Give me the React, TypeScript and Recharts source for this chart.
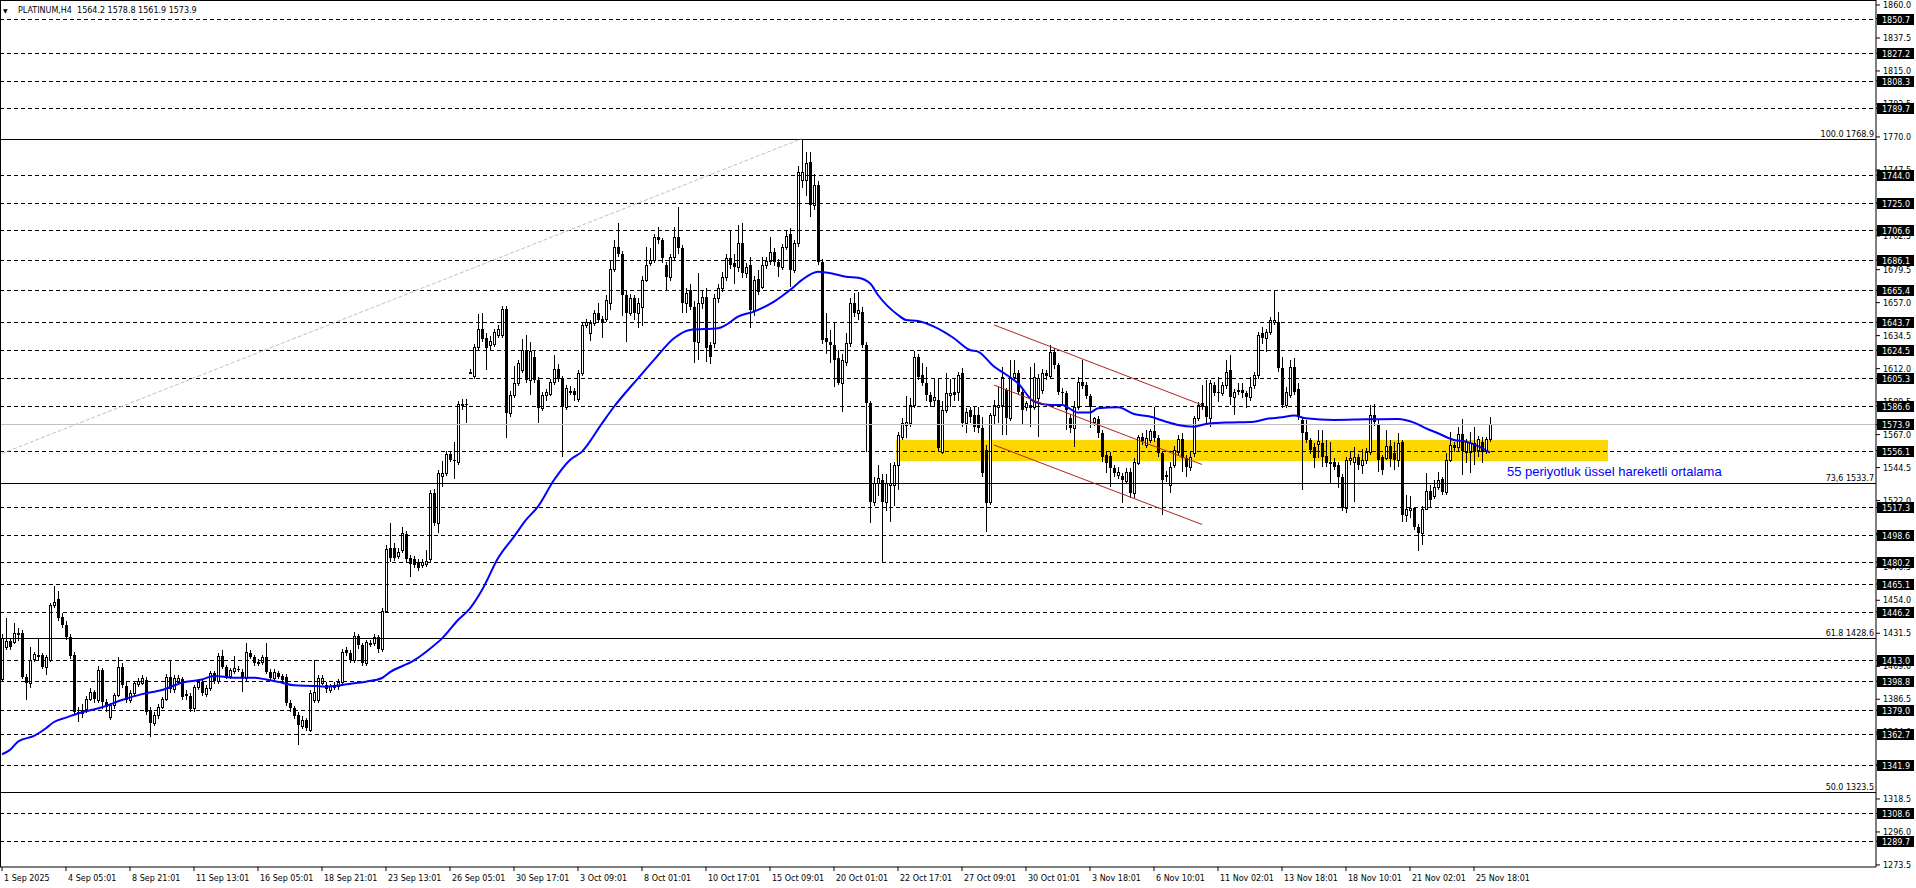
import React from 'react';
import {
  ComposedChart, Bar, Line, XAxis, YAxis, ReferenceLine, ReferenceArea,
} from 'recharts';

const W = 1916;
const H = 888;
const FONT = '"DejaVu Sans", Tahoma, sans-serif';
const SLOTS = 469; // 4px per H4 bar across the plot, empty room on the right

// H4 candles [open, high, low, close]
const sepBars: number[][] = [
  [1400,1431,1398,1428],[1422,1442,1420,1426.5],[1426,1428,1420,1422.4],[1425.8,1438.7,1424,1431.5],[1431,1435,1426,1432],[1431.5,1434,1400,1402],[1402,1404,1386,1397.4],[1397.4,1422.4,1394,1413.3],[1414.2,1419,1412,1417.4],[1416,1427.4,1413,1416.5],
  [1416.7,1418,1407,1408.7],[1408.7,1417,1403,1415.6],[1413.3,1452,1412,1450.8],[1450.8,1463.7,1449,1453.1],[1454.7,1460,1440,1441.7],[1442.8,1445,1435,1437.2],[1437.2,1440,1427,1429.2],[1428.7,1431,1414,1416],[1416.7,1419,1376,1378],[1378,1381,1371.2,1377.4],
  [1377,1383,1374,1379],[1379.6,1389,1377,1386.5],[1386.5,1394,1385,1391.7],[1391.7,1393,1384,1386.5],[1386,1409,1384,1406.5],[1406.5,1408,1380,1384.9],[1384.9,1387,1378,1381.5],[1374.6,1384,1372.4,1382.6],[1382.6,1391,1380,1389.4],[1389.4,1415,1388,1408.7],
  [1408.7,1411,1394,1396.2],[1395.6,1398,1384,1386],[1386,1393,1384,1391],[1390.6,1399,1389,1397.4],[1397,1401,1395,1399],[1397.4,1403,1396,1400.8],[1399.7,1402,1376,1378],[1379,1381,1360.6,1370.6],[1370.6,1378,1368,1375.8],[1375.8,1383,1373,1381.5],
  [1381.5,1388,1380,1386.5],[1386.5,1404,1385,1401.9],[1401.9,1413.3,1391,1393.3],[1393.3,1403,1391,1400.8],[1398.5,1403,1397,1400.8],[1400,1402,1386,1388.3],[1390,1393,1386,1388.7],[1388.7,1391,1378,1379.6],[1380.3,1396,1378,1394.6],[1394.6,1400,1393,1398.5],
  [1398.5,1400,1389,1391],[1390.1,1396,1388,1394],[1394,1406,1392,1404.7],[1404.7,1406,1397,1399.2],[1399.2,1418,1397,1416],[1416,1420.1,1407,1408.7],[1408.7,1410,1400,1401.9],[1402.4,1408,1400,1406.5],[1406,1416,1404,1407.6],[1407,1409,1405,1406.7],
  [1405.3,1407,1391.7,1400.8],[1400.8,1424.7,1399,1419],[1418.3,1420,1414,1415.6],[1415.6,1417,1409,1411],[1411,1414,1409,1412],[1412.2,1417,1410,1415.6],[1415.6,1425,1404,1405.3],[1405.3,1407,1399,1400.8],[1400.8,1407,1399,1405.3],[1404.2,1406,1400,1401.9],
  [1402.4,1404,1398,1399.7],[1401.9,1404,1382,1384.2],[1384.2,1386,1378,1380.3],[1380.3,1382,1373,1375.1],[1375.8,1378,1355.3,1369],[1368.3,1375,1366,1372.4],[1372.4,1374,1365,1366.7],[1365.6,1393,1364,1391],[1386,1413.3,1384,1391.7],[1386,1403,1384,1400.8],
  [1397.8,1403,1396,1401.2],[1396.2,1398,1391,1393.3],[1392.8,1397,1391,1395.6],[1395.1,1398,1393,1396.2],[1395.6,1400,1393,1398.5],[1398.5,1421,1397,1419],[1420.1,1422,1416,1417.8],[1418.3,1420,1411,1413.3],[1413.3,1432.6,1411,1429.7],[1429.7,1431,1421,1423.5],
  [1423.5,1425,1409,1411],[1411,1427,1409,1425.8],[1425.1,1427,1422,1423.5],[1424.7,1431,1423,1429.2],[1428.7,1430,1418,1420.6],[1420.6,1449,1419,1446.9],[1446.9,1492,1445,1489],[1490,1507,1480,1483],[1490,1493,1481,1483],[1484,1490,1482,1487],
  [1488,1504,1486,1500],[1499,1501,1480,1482],[1483,1485,1470,1479],[1482,1484,1476,1478],[1480,1482,1474,1476],[1478,1482,1476,1480],[1479,1488,1477,1481],[1482,1529,1480,1527],[1527,1530,1505,1507],[1507,1543,1500,1541],
  [1539,1549,1531,1541],[1541,1556,1539,1554],[1554,1556,1548,1550],[1550,1562,1537,1549],[1548,1590,1546,1588],[1587,1591,1584,1588],[1588,1591,1575,1587],[1609.5,1612,1609,1610],[1607,1629,1605,1627],[1627,1649,1625,1639],
  [1639,1650,1630,1632],[1633,1636,1611,1626],[1628,1634,1624,1631],[1629,1639,1627,1637],[1635,1642,1633,1639],[1635,1655,1633,1653],[1653,1655,1565,1582],[1582,1597,1579,1594],[1594,1614,1592,1602],[1602,1618,1600,1616],
];

const octBars: number[][] = [
  [1611,1632,1609,1625],[1625,1635,1602,1604],[1604,1630,1594,1624],[1620,1624,1602,1604],[1604,1606,1575,1585],[1585,1596,1583,1594],[1594,1598,1590,1596],[1595,1605,1593,1603],[1603,1621,1601,1612],[1612,1615,1603,1605],
  [1605,1607,1552,1586],[1586,1601,1584,1599],[1596,1600,1594,1597],[1597,1599,1590,1594],[1591,1611,1589,1609],[1609,1644,1607,1642],[1642,1646,1640,1644],[1636,1645,1631,1643],[1643,1652,1641,1650],[1650,1657,1643,1645],
  [1646,1648,1633,1643],[1646,1662,1644,1659],[1657,1686,1652,1680],[1680,1700,1678,1695],[1695,1711,1688,1690],[1690,1692,1648,1662],[1662,1665,1630,1650],[1650,1663,1648,1660],[1660,1662,1645,1650],[1650,1660,1640,1657],
  [1654,1675,1641,1672.5],[1672.5,1695,1671,1682.7],[1683.8,1694,1682,1686.1],[1686.1,1704,1684,1702],[1702,1708.8,1697,1699.7],[1699.7,1701,1684,1687.2],[1682.7,1685,1665.6,1674.7],[1674.7,1690,1672,1688.4],[1688.4,1708.8,1686,1702],[1702,1722.5,1690,1694],
  [1694,1696,1649.7,1656.5],[1656.5,1667,1650,1663.4],[1665.6,1670,1652,1654.3],[1654.3,1658,1615.6,1630.4],[1630.4,1677,1618,1656.5],[1656.5,1665,1653,1661],[1661,1667,1616.8,1625.9],[1628.2,1630,1615,1620.2],[1629.3,1663,1626,1660],[1660,1670,1657,1666.8],
  [1666.8,1678,1664,1674.7],[1674.7,1690,1672,1687.2],[1687.7,1706.5,1680,1682.7],[1683.8,1690,1670,1681.1],[1681.1,1710,1678,1697.5],[1697.9,1711,1674,1677],[1677,1684,1674,1681.5],[1682.7,1688,1639.5,1652],[1652,1675,1648,1672.5],[1672.9,1679,1662,1664.5],
  [1668,1688,1666,1682.7],[1682.7,1688,1680,1685.4],[1685.4,1702,1683,1691.8],[1691.8,1694,1682,1685],[1685,1687,1674.7,1681.5],[1681.5,1697,1679,1695.2],[1695.2,1706.6,1693,1702.5],[1703.8,1708,1668,1679.3],[1679.3,1700,1677,1697.5],[1697.5,1750,1695,1746.3],
  [1740.6,1768.9,1735,1746.3],[1740.6,1760,1730,1752],[1753.2,1760,1715.6,1723.6],[1723.6,1745,1720,1737.2],[1737.2,1740,1683,1685],[1685,1687,1629,1631.5],[1632.7,1650,1622,1630.4],[1630.4,1638.4,1615.6,1628.2],[1628.2,1643,1599.7,1617.9],[1619,1625,1600.8,1602],
  [1602,1622,1582.7,1617.9],[1616.8,1636,1614,1629.3],[1629.3,1660,1627,1656.5],[1656.5,1663.4,1647,1649.7],[1649.7,1664.5,1645,1652],[1650.9,1654,1626,1628.2],[1628.2,1630,1555.4,1588.4],[1588.4,1590,1506.5,1521.3],[1521.3,1538,1518,1533.8],[1533.8,1546.3,1525,1537.2],
  [1536,1540,1480.4,1521.3],[1521.3,1540,1515,1533.8],[1532.7,1547.5,1507.7,1533.8],[1532.7,1548,1518,1546.3],[1546.3,1569,1529,1566.8],[1565.7,1578,1563,1574.7],[1573.6,1593,1565,1575.9],[1574.7,1592,1572,1587.2],[1587.2,1624,1585,1620.2],[1620.2,1622,1604,1606.6],
  [1607.7,1615.6,1600,1602],[1602,1613,1590,1594],[1594,1596,1586,1589.5],[1590.6,1605.4,1586,1592.9],[1590.6,1605.4,1555,1557.7],[1555.4,1590,1554,1583.8],[1583.8,1608.8,1582,1595.2],[1594.1,1605,1586,1595.2],[1596.3,1605,1590,1594.1],[1596.3,1610,1590,1607.7],
  [1608.8,1612.2,1572,1574.7],[1574.7,1585,1568,1582.7],[1583.8,1586,1574.7,1579.3],[1580.4,1586,1569,1572.4],[1580.4,1586,1568,1571.3],[1571.3,1579,1538,1540.6],[1556.5,1560,1500.8,1520.2],[1521.3,1581.5,1519,1580.4],[1580.4,1590.6,1573.6,1587.2],[1586.1,1599.7,1574.7,1587.2],
  [1587.2,1613.3,1567,1606.6],[1597.5,1598.6,1566.8,1578.1],[1578.1,1617.9,1576,1606],[1606.5,1617.9,1604,1608.8],[1608.8,1611,1594,1596.3],[1596.3,1598,1573.6,1583.8],[1586.1,1590,1583,1588.4],[1586.1,1613.3,1572.4,1587.2],[1586.1,1615.6,1584,1606.5],[1591.8,1608,1565.5,1605.4],
  [1597.4,1612,1595,1608.8],[1608.8,1611,1604,1607],[1607,1628.1,1605,1623.6],[1623.6,1625.8,1612,1614.5],[1614.5,1616,1594,1596.3],[1596.3,1599,1588,1595.2],[1595.2,1597,1570,1583.8],[1578.1,1581,1568,1571.3],
];

const novBars: number[][] = [
  [1571.3,1590,1558.8,1586.1],[1586.1,1606,1584,1603.1],[1603.1,1617.9,1598,1600.2],[1600.8,1603,1591,1593.3],[1593.3,1595,1571.3,1586.1],[1575.8,1579.3,1573,1578.1],[1577.4,1580,1565,1567.9],[1567.9,1570,1548.6,1552],[1553.1,1556,1540.6,1547.4],[1552.4,1555,1531.5,1544],
  [1544,1546,1538,1541.1],[1539.5,1545,1537,1541.7],[1539,1541,1520.2,1536],[1535.6,1544,1533,1541.7],[1541.7,1544,1523.6,1527],[1527,1551,1523.6,1548.6],[1547.9,1566.8,1546,1565.6],[1565.2,1568,1560,1562.9],[1560,1570,1558,1564.5],[1563.4,1570.6,1561,1569.7],
  [1569.7,1586.1,1562,1564.5],[1564.5,1567,1552,1554.3],[1554.3,1556,1512.2,1536.1],[1539.5,1542,1535,1538.3],[1532.7,1548,1527,1545.2],[1546.3,1559,1544,1556.5],[1555.4,1566.8,1553,1563.8],[1563.8,1568,1541.7,1550.8],[1550.8,1553,1538.3,1545.2],[1545.2,1556,1542,1552],
  [1554.2,1580,1552,1578.1],[1578.1,1589.5,1576,1587.2],[1588.4,1600.8,1584,1586.1],[1586.1,1604,1575,1579.3],[1578.1,1604.3,1572.4,1602],[1600.8,1603,1593,1595.2],[1596.3,1606.5,1589.5,1595.6],[1595.6,1603,1593,1600.8],[1600.8,1617.9,1598,1609.9],[1611,1621.3,1587.2,1592.9],
  [1592.9,1598,1580.4,1596.3],[1597,1602,1594,1597.4],[1597.4,1602,1592,1595.6],[1595.2,1597,1585,1592.9],[1592.9,1606.5,1590,1599.7],[1600.8,1610,1598,1607.7],[1607.7,1637,1605,1634.9],[1636.1,1640.6,1629,1632.7],[1632.7,1639,1623.6,1637.2],[1637.2,1647,1635,1645.2],
  [1644,1665.4,1642,1645.2],[1644,1650.9,1610,1612.2],[1612.2,1620.2,1585,1587.2],[1587.2,1599.7,1585,1596.3],[1594.1,1617.9,1592,1613.3],[1613.3,1619,1594,1596.3],[1597.9,1602,1577,1579.3],[1577,1579,1529.2,1567.9],[1569,1577,1561,1563.3],[1563.3,1565,1554,1556.5],
  [1558.8,1561,1544,1550.8],[1560.6,1570.2,1550.8,1562.6],[1561.1,1570,1545,1552],[1552.4,1563.3,1545,1547.4],[1547.4,1562,1533.8,1548.6],[1548.1,1551,1543,1545.2],[1546.3,1548,1530.4,1538.3],[1538.3,1540,1515,1516.7],[1516.7,1552,1513.3,1549.7],[1549.7,1556,1546,1550.8],
  [1548.6,1558.8,1521,1551.9],[1551.9,1554,1543,1546.3],[1546.3,1557,1540,1549.7],[1549.7,1558,1547,1555.4],[1555.4,1587.2,1553,1580.4],[1580.4,1588,1573,1575.8],[1573.6,1577,1541.7,1549.7],[1551.5,1553,1539.5,1542.9],[1550.8,1570.2,1549.7,1559.2],[1559.2,1563.3,1545.2,1550.2],
  [1554.2,1562.2,1542.9,1549.7],[1549.7,1568.3,1545.2,1561.1],[1562.2,1563.3,1507.6,1512.2],[1512.2,1525.8,1507.6,1516],[1515.6,1525,1510,1516.7],[1516.7,1517.9,1502,1504.2],[1504.2,1506,1487.9,1500.1],[1500.1,1518,1491.7,1516],[1516,1540.6,1515.6,1528.6],[1528.6,1532.6,1516.7,1522.4],
  [1525.2,1536.1,1523,1531.1],[1531.1,1541.7,1529,1536.1],[1536.5,1538,1525.8,1528.1],[1528.1,1554.2,1526,1549.7],[1549.7,1569,1548,1559.9],[1559.9,1562,1555,1557.7],[1558.8,1572.4,1556,1567.4],[1567.4,1577.4,1539.5,1556.1],[1555.4,1564,1547.4,1562.2],[1555.4,1569,1540.6,1561.1],
  [1561.5,1572.4,1546.3,1555.4],[1556.5,1566,1552,1563.8],[1562.2,1565.6,1547.4,1555.4],[1556.5,1565.6,1554,1563.8],[1564.2,1578.8,1561.9,1573.9],
];

// 55-period EMA at [bar index, price]
const emaPoints: [number, number][] = [
  [0,1349],[2,1352],[4,1357.6],[8,1361.5],[11,1366.7],[13,1371],[16,1374],[20,1377.6],[25,1381],[30,1386],
  [35,1390],[40,1392.8],[45,1397.8],[50,1400],[53,1402.4],[58,1401.2],[63,1401.2],[66,1400],[70,1397.8],[73,1396],
  [78,1395.6],[81,1395.1],[85,1396.2],[88,1397.4],[91,1398.5],[95,1401],[97,1405],[103,1413],[107,1421],[110,1428],
  [114,1440.6],[117,1448.5],[120,1461],[124,1482.6],[128,1497.4],[131,1508.8],[134,1517.9],[138,1536],[142,1549.7],[145,1555.4],
  [150,1574.7],[153,1586],[159,1605.4],[163,1618],[168,1632.7],[172,1638.4],[179,1639.5],[181,1641.8],[184,1647.5],[188,1650.9],
  [193,1657.7],[197,1665.6],[200,1672.5],[204,1678.1],[208,1676.6],[211,1674.7],[214,1674],[217,1670.2],[219,1662.2],[224,1648.6],
  [226,1645.2],[229,1644.5],[233,1640.6],[238,1632.7],[242,1624.7],[244,1623.6],[248,1613.4],[251,1608],[254,1602],[258,1589.5],
  [262,1587.2],[265,1587.2],[269,1582],[272,1582],[274,1585],[279,1585.6],[283,1581.1],[287,1579.3],[291,1575.8],[294,1573.6],
  [298,1572.4],[301,1574.3],[306,1575.2],[313,1575.8],[316,1577.7],[320,1578.8],[323,1580],[326,1578.1],[333,1577],[341,1577.4],
  [349,1577.7],[353,1575.2],[356,1571.3],[359,1567.9],[363,1563.3],[366,1562.2],[369,1559.2],[372,1554.7],
];

const timeLabels = [
  '1 Sep 2025', '4 Sep 05:01', '8 Sep 21:01', '11 Sep 13:01', '16 Sep 05:01', '18 Sep 21:01',
  '23 Sep 13:01', '26 Sep 05:01', '30 Sep 17:01', '3 Oct 09:01', '8 Oct 01:01', '10 Oct 17:01',
  '15 Oct 09:01', '20 Oct 01:01', '22 Oct 17:01', '27 Oct 09:01', '30 Oct 01:01', '3 Nov 18:01',
  '6 Nov 10:01', '11 Nov 02:01', '13 Nov 18:01', '18 Nov 10:01', '21 Nov 02:01', '25 Nov 18:01',
];
const LABEL_EVERY = 16;

const priceTicks = [
  1860, 1837.5, 1815, 1792.5, 1770, 1747.5, 1725, 1702.5, 1679.5, 1657, 1634.5, 1612, 1589.5, 1567,
  1544.5, 1522, 1499.5, 1476.5, 1454, 1431.5, 1409, 1386.5, 1364, 1341.5, 1318.5, 1296, 1273.5,
];
const priceDomain = [1272.1, 1863.4];

const dashedLevels = [
  1850.7, 1827.2, 1808.3, 1789.7, 1744.0, 1725.0, 1706.6, 1686.1, 1665.4, 1643.7, 1624.5, 1605.3, 1586.6,
  1556.1, 1517.3, 1498.6, 1480.2, 1465.1, 1446.2, 1413.0, 1398.8, 1379.0, 1362.7, 1341.9, 1308.6, 1289.7,
];
const fibValues = [1768.9, 1533.7, 1428.6, 1323.5];
const fibNames = ['100.0', '73,6', '61.8', '50.0'];
const lastPrice = 1573.9;

// channel lines: [fromBar, fromPrice, toBar, toPrice]
const channelLines = [
  [248, 1641.8, 300, 1587.2],
  [248, 1600.8, 300, 1546.6],
  [248, 1559.9, 300, 1505.7],
];
const fibTrend = [0, 1554.1, 200, 1768.9];
const zoneBars = [224, 401];
const zonePrices = [1549.0, 1563.4];

const candles = [...sepBars, ...octBars, ...novBars];
const emaMap = new Map(emaPoints);
const rows = Array.from({ length: SLOTS }, (_, i) => {
  const b = candles[i];
  const ema = emaMap.has(i) ? emaMap.get(i) : null;
  return b
    ? { i, o: b[0], h: b[1], l: b[2], c: b[3], range: [b[2], b[1]], ema }
    : { i, ema };
});
const tickIdx = timeLabels.map((_, k) => k * LABEL_EVERY);

// boxed price labels go last so they paint over the plain scale labels
const boxedPrices = [...dashedLevels, lastPrice];
const boxedSet = new Set(boxedPrices);
const yTicks = [...priceTicks, ...boxedPrices];

const Candle = (props: any) => {
  const { x, y, width, height, payload } = props;
  if (!payload || payload.o == null) return null;
  const { o, h, l, c } = payload;
  const top0 = Math.min(y, y + height);
  const span = Math.abs(height);
  const k = h === l ? 0 : span / (h - l);
  const py = (p: number) => top0 + (h - p) * k;
  const cx = Math.floor(x + width / 2);
  const bt = Math.round(py(Math.max(o, c)));
  const bb = Math.round(py(Math.min(o, c)));
  const up = c > o;
  return (
    <g>
      <line x1={cx + 0.5} x2={cx + 0.5} y1={Math.round(top0)} y2={Math.round(top0 + span)} stroke="#000" />
      {up ? (
        <rect x={cx - 0.5} y={bt + 0.5} width={2} height={Math.max(bb - bt, 1)} fill="#fff" stroke="#000" />
      ) : (
        <rect x={cx - 1} y={bt} width={3} height={Math.max(bb - bt, 1)} fill="#000" />
      )}
    </g>
  );
};

const ends = (p: any) => ({ xl: Math.min(p.x1, p.x2), xr: Math.max(p.x1, p.x2), y: Math.round(p.y1) + 0.5 });

const dashedShape = (p: any) => {
  const { xl, xr, y } = ends(p);
  return <line x1={xl} x2={xr} y1={y} y2={y} stroke="#000" strokeDasharray="4 3" />;
};

const fibShape = (v: number, name: string) => (p: any) => {
  const { xl, xr, y } = ends(p);
  return (
    <g>
      <line x1={xl} x2={xr} y1={y} y2={y} stroke="#000" />
      <text x={xr - 2} y={y - 2.5} textAnchor="end" fontSize={8} fontFamily={FONT} fill="#000">
        {`${name} ${v.toFixed(1)}`}
      </text>
    </g>
  );
};

const lastShape = (p: any) => {
  const { xl, xr, y } = ends(p);
  return <line x1={xl} x2={xr} y1={y} y2={y} stroke="#C0C0C0" />;
};

const XTick = (p: any) => (
  <text x={p.x + 2} y={p.y} dy={8} fontSize={8} fontFamily={FONT} fill="#000">
    {timeLabels[p.payload.value / LABEL_EVERY]}
  </text>
);

const YTick = (p: any) => {
  const v = Number(p.payload.value);
  if (p.index >= priceTicks.length && boxedSet.has(v)) {
    const y = Math.round(p.y) + 0.5;
    return (
      <g>
        <rect x={p.x - 6} y={y - 5.5} width={37} height={11} fill="#000" />
        <text x={p.x - 1} y={y + 3.5} fill="#fff" fontSize={8} fontFamily={FONT}>{v.toFixed(1)}</text>
      </g>
    );
  }
  return (
    <text x={p.x} y={p.y} dy={3} fontSize={8} fontFamily={FONT} fill="#000" textAnchor="start">
      {v.toFixed(1)}
    </text>
  );
};

export default function App() {
  return (
    <div style={{ position: 'relative', width: W, height: H, background: '#fff' }}>
      <style>{'body{margin:0;background:#fff}'}</style>
      <ComposedChart
        width={W}
        height={H}
        data={rows}
        margin={{ top: 0, right: 0, bottom: 0, left: 0 }}
        barCategoryGap={0}
        barGap={0}
      >
        <XAxis
          dataKey="i"
          type="category"
          ticks={tickIdx}
          interval={0}
          height={21}
          tickSize={4}
          tickMargin={2}
          axisLine={{ stroke: '#000' }}
          tickLine={{ stroke: '#000' }}
          tick={<XTick />}
        />
        <YAxis
          orientation="right"
          type="number"
          domain={priceDomain}
          allowDataOverflow
          ticks={yTicks}
          interval={0}
          width={40}
          tickSize={4}
          tickMargin={3}
          axisLine={{ stroke: '#000' }}
          tickLine={{ stroke: '#000' }}
          tick={<YTick />}
        />
        <ReferenceArea
          x1={zoneBars[0]}
          x2={zoneBars[1]}
          y1={zonePrices[0]}
          y2={zonePrices[1]}
          fill="#FFD700"
          fillOpacity={1}
          stroke="none"
        />
        {dashedLevels.map(v => (
          <ReferenceLine key={`d${v}`} y={v} shape={dashedShape} />
        ))}
        {fibValues.map((v, k) => (
          <ReferenceLine key={`f${v}`} y={v} shape={fibShape(v, fibNames[k])} />
        ))}
        <ReferenceLine y={lastPrice} shape={lastShape} />
        <ReferenceLine
          segment={[{ x: fibTrend[0], y: fibTrend[1] }, { x: fibTrend[2], y: fibTrend[3] }]}
          stroke="#C0C0C0"
          strokeDasharray="4 2"
        />
        <Bar dataKey="range" shape={<Candle />} isAnimationActive={false} />
        <Line
          dataKey="ema"
          type="monotone"
          stroke="#0000FF"
          strokeWidth={2}
          dot={false}
          activeDot={false}
          connectNulls
          isAnimationActive={false}
        />
        {channelLines.map((s, k) => (
          <ReferenceLine
            key={`c${k}`}
            segment={[{ x: s[0], y: s[1] }, { x: s[2], y: s[3] }]}
            stroke="#B22222"
            strokeWidth={1}
          />
        ))}
      </ComposedChart>
      <svg width={W} height={H} style={{ position: 'absolute', left: 0, top: 0, pointerEvents: 'none' }}>
        <line x1={0.5} x2={0.5} y1={0} y2={867} stroke="#000" />
        <line x1={0} x2={1876} y1={0.5} y2={0.5} stroke="#000" />
        <text x={3} y={13} fontSize={6} fontFamily={FONT} fill="#000">▼</text>
        <text x={18} y={13} fontSize={8} fontFamily={FONT} fill="#000" xmlSpace="preserve">
          {'PLATINUM,H4  1564.2 1578.8 1561.9 1573.9'}
        </text>
        <text x={1507} y={476} fontSize={13} fontFamily='"Liberation Sans", Arial, sans-serif' fill="#0000FF">
          55 periyotluk üssel hareketli ortalama
        </text>
      </svg>
    </div>
  );
}
